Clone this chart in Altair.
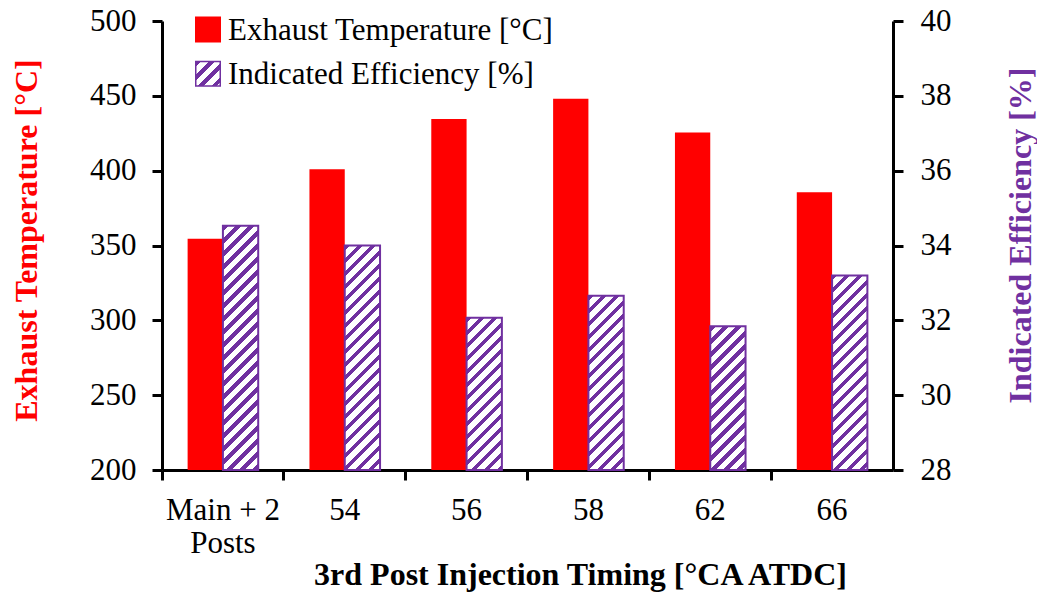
import altair as alt

# ---- data ----
timings = ["Main + 2\nPosts", "54", "56", "58", "62", "66"]
exhaust_temp = [354.5, 401, 434.5, 448, 425.5, 385.5]
efficiency = [34.53, 34.0, 32.07, 32.66, 31.84, 33.2]
series = ["Exhaust Temperature [°C]", "Indicated Efficiency [%]"]
left_ticks = [200, 250, 300, 350, 400, 450, 500]
right_ticks = [28, 30, 32, 34, 36, 38, 40]

# ---- styling / layout ----
FONT = "Liberation Serif"
RED = "#FF0000"
PURPLE = "#7030A0"
W, H = 731, 449
LEFT_DOM = [200, 500]
RIGHT_DOM = [28, 40]
STEP = W / len(timings)
OFF_PAD = 0.7256
BAR_W = STEP / (2 + 2 * OFF_PAD)


def hatch(w, h, period=13.0, frac=0.42):
    """Upward-diagonal hatch as a hard-stop linear gradient (bbox units)."""
    r = w / h
    s = (r + 1) / (r * r + 1)
    n = (w + h) / period
    dt = 1.0 / n
    stops = []
    t = 0.0
    while t < 1.0:
        a = t
        b = min(t + frac * dt, 1.0)
        c = min(t + dt, 1.0)
        stops += [
            {"offset": round(a, 5), "color": PURPLE},
            {"offset": round(b, 5), "color": PURPLE},
            {"offset": round(b, 5), "color": "#FFFFFF"},
            {"offset": round(c, 5), "color": "#FFFFFF"},
        ]
        t += dt
    return {"gradient": "linear", "x1": 0, "y1": 0, "x2": s * r, "y2": s, "stops": stops}


records = []
for t, v in zip(timings, exhaust_temp):
    records.append({"timing": t, "series": series[0], "value": v, "fill": RED})
for t, v in zip(timings, efficiency):
    h = (v - RIGHT_DOM[0]) / (RIGHT_DOM[1] - RIGHT_DOM[0]) * H
    records.append({"timing": t, "series": series[1], "value": v, "fill": hatch(BAR_W, h)})

legend_records = [
    {"series": series[0], "fill": RED, "stroke": RED},
    {"series": series[1], "fill": hatch(24, 24), "stroke": PURPLE},
]

data = alt.Data(values=records)

x_axis = alt.Axis(
    title="3rd Post Injection Timing [°CA ATDC]",
    labelAngle=0,
    bandPosition=0,
    labelExpr="split(datum.label, '\\n')",
    labelFont=FONT, labelFontSize=31, labelColor="black",
    labelPadding=15, labelLineHeight=33,
    tickSize=10, tickWidth=3, tickColor="black",
    domainWidth=3, domainColor="black",
    titleFont=FONT, titleFontSize=32, titleFontWeight="bold", titleColor="black",
    titleX=418, titleY=114, titleAlign="center", titleBaseline="alphabetic",
    grid=False,
)

x_enc = alt.X("timing:N", sort=timings,
              scale=alt.Scale(domain=timings, paddingInner=0, paddingOuter=0),
              axis=x_axis)
xo_enc = alt.XOffset("series:N",
                     scale=alt.Scale(domain=series, paddingInner=0, paddingOuter=OFF_PAD))

left_axis = alt.Axis(
    orient="left", values=left_ticks, title=series[0],
    labelFont=FONT, labelFontSize=31, labelColor="black", labelPadding=16,
    tickSize=10, tickWidth=3, tickColor="black",
    domainWidth=3, domainColor="black", grid=False,
    titleFont=FONT, titleFontSize=32, titleFontWeight="bold", titleColor=RED,
    titleAngle=270, titleX=-126, titleY=219, titleAlign="center",
    titleBaseline="alphabetic",
)
right_axis = alt.Axis(
    orient="right", values=right_ticks, title=series[1],
    labelFont=FONT, labelFontSize=31, labelColor="black", labelPadding=17,
    tickSize=10, tickWidth=3, tickColor="black",
    domainWidth=3, domainColor="black", grid=False,
    titleFont=FONT, titleFontSize=32, titleFontWeight="bold", titleColor=PURPLE,
    titleAngle=270, titleX=137, titleY=214, titleAlign="center",
    titleBaseline="alphabetic",
)

red_bars = alt.Chart(data).transform_filter(
    alt.datum.series == series[0]
).mark_bar().encode(
    x=x_enc,
    xOffset=xo_enc,
    y=alt.Y("value:Q", scale=alt.Scale(domain=LEFT_DOM, zero=False, nice=False),
            axis=left_axis, stack=None),
    fill=alt.Fill("fill:N", scale=None),
)

purple_bars = alt.Chart(data).transform_filter(
    alt.datum.series == series[1]
).mark_bar(stroke=PURPLE, strokeWidth=2).encode(
    x=x_enc,
    xOffset=xo_enc,
    y=alt.Y("value:Q", scale=alt.Scale(domain=RIGHT_DOM, zero=False, nice=False),
            axis=right_axis, stack=None),
    fill=alt.Fill("fill:N", scale=None),
)

leg_y = alt.Y("series:N",
              scale=alt.Scale(type="point", domain=series, range=[8.5, 52.7], padding=0),
              axis=None)
legend_data = alt.Data(values=legend_records)
leg_sq = alt.Chart(legend_data).mark_square(size=600, strokeWidth=1.5, opacity=1).encode(
    x=alt.value(46),
    y=leg_y,
    fill=alt.Fill("fill:N", scale=None),
    stroke=alt.Stroke("stroke:N", scale=None),
)
leg_txt = alt.Chart(legend_data).mark_text(
    align="left", baseline="middle", font=FONT, fontSize=31, color="black", dy=1
).encode(
    x=alt.value(66),
    y=leg_y,
    text="series:N",
)
legend = alt.layer(leg_sq, leg_txt)

chart = alt.layer(red_bars, purple_bars, legend).resolve_scale(
    y="independent"
).properties(
    width=W, height=H,
    autosize=alt.AutoSizeParams(type="none"),
    padding={"left": 154, "top": 13, "right": 144, "bottom": 122},
    background="white",
).configure_view(strokeWidth=0)

chart.save("out.html", embed_options={"renderer": "svg", "actions": False})
